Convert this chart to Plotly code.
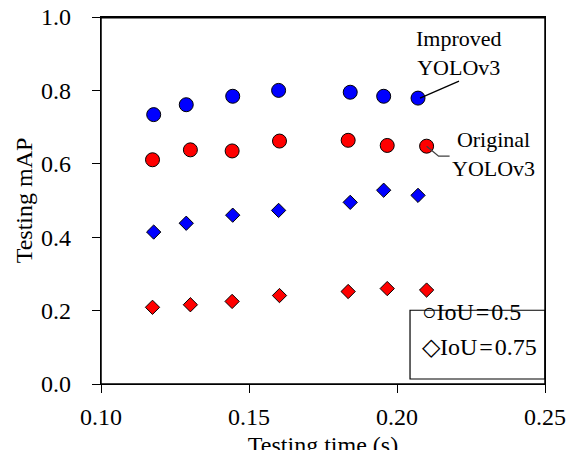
import plotly.graph_objects as go

# Data
improved_time = [0.1178, 0.1288, 0.1445, 0.1600, 0.1842, 0.1955, 0.2071]
original_time = [0.1174, 0.1302, 0.1443, 0.1603, 0.1835, 0.1967, 0.2100]
improved_map50 = [0.734, 0.761, 0.784, 0.800, 0.795, 0.784, 0.779]
original_map50 = [0.611, 0.638, 0.635, 0.662, 0.664, 0.650, 0.648]
improved_map75 = [0.414, 0.438, 0.460, 0.473, 0.495, 0.528, 0.514]
original_map75 = [0.209, 0.216, 0.225, 0.241, 0.252, 0.260, 0.256]

x_ticks = [0.10, 0.15, 0.20, 0.25]
x_tick_labels = ["0.10", "0.15", "0.20", "0.25"]
y_ticks = [0.0, 0.2, 0.4, 0.6, 0.8, 1.0]
y_tick_labels = ["0.0", "0.2", "0.4", "0.6", "0.8", "1.0"]

FONT = "Liberation Serif, Times New Roman, serif"
BLUE = "#0000FF"
RED = "#FF0000"

fig = go.Figure()

def add(xs, ys, color, symbol, size, name):
    fig.add_trace(go.Scatter(
        x=xs, y=ys, mode="markers", name=name, showlegend=False,
        marker=dict(color=color, symbol=symbol, size=size,
                    line=dict(color="black", width=1)),
    ))

add(improved_time, improved_map50, BLUE, "circle", 14, "Improved YOLOv3, IoU=0.5")
add(original_time, original_map50, RED, "circle", 14, "Original YOLOv3, IoU=0.5")
add(improved_time, improved_map75, BLUE, "diamond", 11, "Improved YOLOv3, IoU=0.75")
add(original_time, original_map75, RED, "diamond", 11, "Original YOLOv3, IoU=0.75")

annotations = [
    dict(x=improved_time[-1], y=improved_map50[-1], xref="x", yref="y",
         text="Improved<br>YOLOv3", showarrow=False, xshift=41, yshift=45,
         font=dict(family=FONT, size=22, color="black")),
    dict(x=original_time[-1], y=original_map50[-1], xref="x", yref="y",
         text="Original<br>YOLOv3", showarrow=False, xshift=67, yshift=-8,
         font=dict(family=FONT, size=22, color="black")),
    dict(x=0.718, y=0.155, xref="paper", yref="paper", xanchor="left",
         text="○IoU\u200a=\u200a0.5", showarrow=False,
         font=dict(family=FONT, size=24, color="black")),
    dict(x=0.718, y=0.061, xref="paper", yref="paper", xanchor="left",
         text="◇IoU\u200a=\u200a0.75", showarrow=False,
         font=dict(family=FONT, size=24, color="black")),
]

shapes = [
    # plot frame
    dict(type="rect", xref="paper", yref="paper", x0=0, x1=1, y0=0, y1=1,
         line=dict(color="black", width=1.5), layer="above"),
    # explicit top edge of the frame
    dict(type="line", xref="paper", yref="paper", x0=0, x1=1, y0=0.998, y1=0.998,
         line=dict(color="black", width=1.6), layer="above"),
    # legend frame
    dict(type="rect", xref="paper", yref="paper", x0=0.696, x1=1.0, y0=0.0136, y1=0.201,
         line=dict(color="black", width=1.2), fillcolor="white", layer="below"),
    # leader line for Improved YOLOv3
    dict(type="line", xref="x", yref="y", xsizemode="pixel", ysizemode="pixel",
         xanchor=improved_time[-1], yanchor=improved_map50[-1],
         x0=2, y0=0, x1=41, y1=17, line=dict(color="black", width=1.3)),
    # leader line for Original YOLOv3
    dict(type="path", xref="x", yref="y", xsizemode="pixel", ysizemode="pixel",
         xanchor=original_time[-1], yanchor=original_map50[-1],
         path="M 0 0 L 12 -10 L 23 -10", line=dict(color="#404040", width=1.3)),
]

axis_common = dict(
    showline=True, linecolor="black", linewidth=1.3, mirror=True,
    ticks="outside", ticklen=8, tickcolor="black", tickwidth=1.3,
    showgrid=False, zeroline=False, automargin=False,
    ticklabeloverflow="allow",
    tickfont=dict(family=FONT, size=24, color="black"),
)

# The page body adds an 8px offset, so margins are reduced by 8px on top/left.
fig.update_layout(
    width=575, height=450,
    margin=dict(l=93, r=38, t=9, b=74),
    paper_bgcolor="white", plot_bgcolor="white",
    xaxis=dict(range=[0.10, 0.25], tickvals=x_ticks, ticktext=x_tick_labels,
               ticklabelstandoff=3,
               title=dict(text="Testing time (s)", standoff=16,
                          font=dict(family=FONT, size=24, color="black")),
               **axis_common),
    yaxis=dict(range=[0.0, 1.0], tickvals=y_ticks, ticktext=y_tick_labels,
               ticklabelstandoff=16,
               title=dict(text="Testing mAP", standoff=1,
                          font=dict(family=FONT, size=24, color="black")),
               **axis_common),
    annotations=annotations,
    shapes=shapes,
    showlegend=False,
)

fig.write_html("out.html", config={"displayModeBar": False})
